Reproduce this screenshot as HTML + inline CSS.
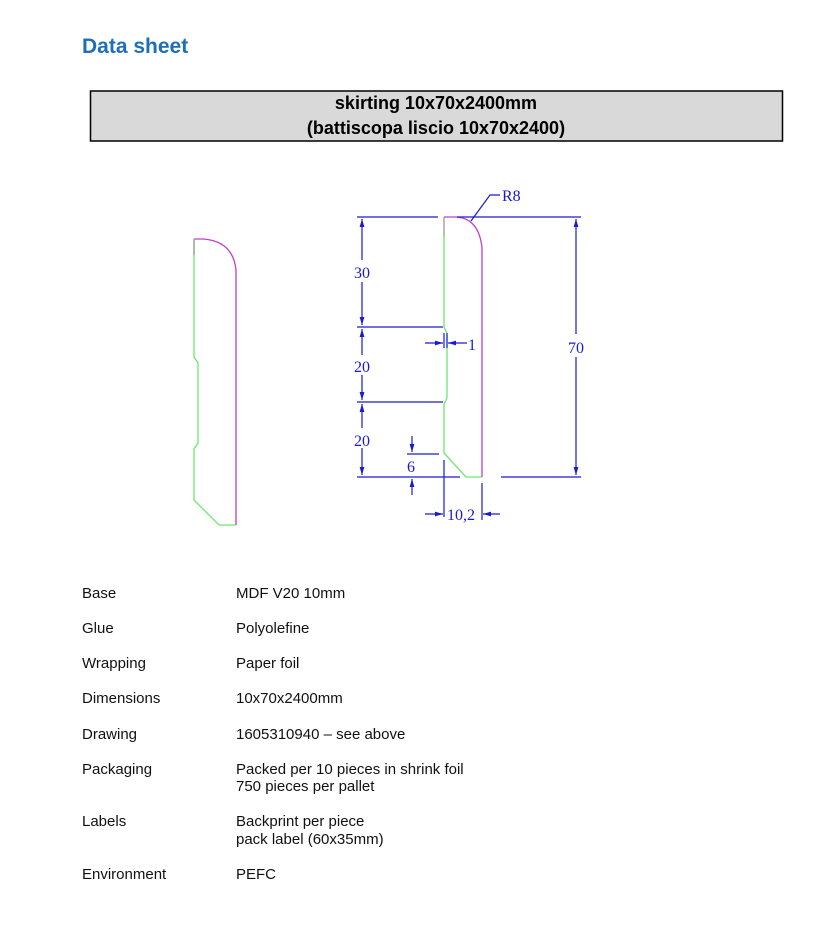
<!DOCTYPE html>
<html><head><meta charset="utf-8"><style>
html,body{margin:0;padding:0;background:#fff;width:832px;height:925px;overflow:hidden}
svg{display:block}
.t{font-family:"Liberation Sans",Arial,sans-serif;font-size:15px;fill:#111}
.d{font-family:"Liberation Serif",serif;font-size:16px;fill:#1a1ad0}
</style></head><body>
<svg width="832" height="925" viewBox="0 0 832 925" xmlns="http://www.w3.org/2000/svg">
<defs>
<marker id="a" viewBox="0 0 10 6" refX="10" refY="3" markerWidth="7" markerHeight="4" orient="auto-start-reverse"><path d="M0,0 L10,3 L0,6z" fill="#1a1ad0"/></marker>
</defs>
<text x="82" y="53" font-family="Liberation Sans,Arial,sans-serif" font-size="21" font-weight="bold" fill="#1f6fb5">Data sheet</text>
<rect x="90.5" y="91" width="692" height="50" fill="#d9d9d9" stroke="#000" stroke-width="1.5"/>
<text x="436" y="109" text-anchor="middle" font-family="Liberation Sans,Arial,sans-serif" font-size="18" font-weight="bold">skirting 10x70x2400mm</text>
<text x="436" y="134" text-anchor="middle" font-family="Liberation Sans,Arial,sans-serif" font-size="18" font-weight="bold">(battiscopa liscio 10x70x2400)</text>

<g fill="none" stroke-width="1.3">
<path d="M194,239 L194,357 L198,363 L198,443 L194,449 L194,500 L219,525 L236,525" stroke="#6ee86e"/>
<path d="M194,239 L203,239 Q233,241 236,270 L236,525" stroke="#c040c0"/>
<path d="M194,239 L194,255" stroke="#999"/>
</g>
<g fill="none" stroke-width="1.3">
<path d="M444,237 L444,327 L447,333 L447,398 L444,404 L444,453 L466,477 L482,477" stroke="#6ee86e"/>
<path d="M444,217 L457,217 Q479,219 482,248 L482,477" stroke="#c040c0"/>
<path d="M444,217 L444,237" stroke="#999"/>
</g>
<g stroke="#1a1ad0" stroke-width="1.2" fill="none">
<line x1="357" y1="217" x2="438" y2="217"/>
<line x1="457" y1="217" x2="581" y2="217"/>
<line x1="357" y1="327" x2="443" y2="327"/>
<line x1="357" y1="402" x2="443" y2="402"/>
<line x1="357" y1="477" x2="460" y2="477"/>
<line x1="501" y1="477" x2="581" y2="477"/>
<line x1="362" y1="219" x2="362" y2="260" marker-start="url(#a)"/>
<line x1="362" y1="282" x2="362" y2="325" marker-end="url(#a)"/>
<line x1="362" y1="329" x2="362" y2="355" marker-start="url(#a)"/>
<line x1="362" y1="375" x2="362" y2="400" marker-end="url(#a)"/>
<line x1="362" y1="404" x2="362" y2="428" marker-start="url(#a)"/>
<line x1="362" y1="448" x2="362" y2="475" marker-end="url(#a)"/>
<line x1="576" y1="219" x2="576" y2="334" marker-start="url(#a)"/>
<line x1="576" y1="357" x2="576" y2="475" marker-end="url(#a)"/>
<line x1="444" y1="333" x2="444" y2="348"/>
<line x1="447" y1="333" x2="447" y2="348"/>
<line x1="425" y1="343" x2="443" y2="343" marker-end="url(#a)"/>
<line x1="467" y1="343" x2="448" y2="343" marker-end="url(#a)"/>
<line x1="412" y1="436" x2="412" y2="452" marker-end="url(#a)"/>
<line x1="407" y1="454" x2="439" y2="454"/>
<line x1="412" y1="495" x2="412" y2="479" marker-end="url(#a)"/>
<line x1="444" y1="460" x2="444" y2="517"/>
<line x1="482" y1="483" x2="482" y2="520"/>
<line x1="425" y1="514" x2="443" y2="514" marker-end="url(#a)"/>
<line x1="500" y1="514" x2="483" y2="514" marker-end="url(#a)"/>
<path d="M471,221 L490,195 L500,195"/>
</g>
<g class="d">
<text x="354" y="278">30</text>
<text x="354" y="372">20</text>
<text x="354" y="446">20</text>
<text x="568" y="353">70</text>
<text x="468" y="350">1</text>
<text x="407" y="472">6</text>
<text x="447" y="520">10,2</text>
<text x="502" y="201">R8</text>
</g>

<g class="t">
<text x="82" y="598">Base</text><text x="236" y="598">MDF V20 10mm</text>
<text x="82" y="633">Glue</text><text x="236" y="633">Polyolefine</text>
<text x="82" y="668">Wrapping</text><text x="236" y="668">Paper foil</text>
<text x="82" y="703">Dimensions</text><text x="236" y="703">10x70x2400mm</text>
<text x="82" y="739">Drawing</text><text x="236" y="739">1605310940 – see above</text>
<text x="82" y="774">Packaging</text><text x="236" y="774">Packed per 10 pieces in shrink foil</text>
<text x="236" y="791">750 pieces per pallet</text>
<text x="82" y="826">Labels</text><text x="236" y="826">Backprint per piece</text>
<text x="236" y="844">pack label (60x35mm)</text>
<text x="82" y="879">Environment</text><text x="236" y="879">PEFC</text>
</g>
</svg>
</body></html>
